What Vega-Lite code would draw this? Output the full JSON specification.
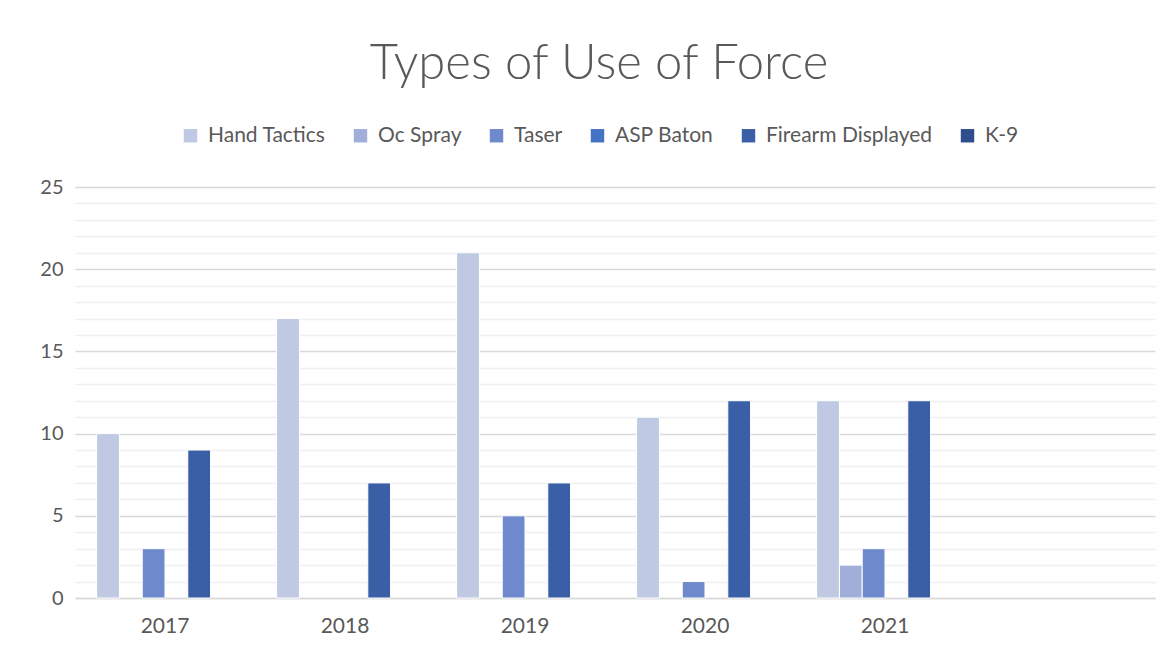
{
  "$schema": "https://vega.github.io/schema/vega-lite/v6.json",
  "autosize": "none",
  "width": 1080,
  "height": 411,
  "padding": {"left": 75, "top": 187, "right": 15, "bottom": 53},
  "background": "white",
  "config": {
    "font": "Lato",
    "view": {"stroke": null}
  },
  "title": {
    "text": "Types of Use of Force",
    "fontSize": 49,
    "font": "Lato",
    "fontWeight": 300,
    "color": "#595959",
    "anchor": "middle",
    "frame": "group",
    "dx": -16,
    "offset": 36
  },
  "data": {
    "values": [
      {"year": "2017", "type": "Hand Tactics", "count": 10},
      {"year": "2017", "type": "Taser", "count": 3},
      {"year": "2017", "type": "Firearm Displayed", "count": 9},
      {"year": "2018", "type": "Hand Tactics", "count": 17},
      {"year": "2018", "type": "Firearm Displayed", "count": 7},
      {"year": "2019", "type": "Hand Tactics", "count": 21},
      {"year": "2019", "type": "Taser", "count": 5},
      {"year": "2019", "type": "Firearm Displayed", "count": 7},
      {"year": "2020", "type": "Hand Tactics", "count": 11},
      {"year": "2020", "type": "Taser", "count": 1},
      {"year": "2020", "type": "Firearm Displayed", "count": 12},
      {"year": "2021", "type": "Hand Tactics", "count": 12},
      {"year": "2021", "type": "Oc Spray", "count": 2},
      {"year": "2021", "type": "Taser", "count": 3},
      {"year": "2021", "type": "Firearm Displayed", "count": 12}
    ]
  },
  "layer": [
    {
      "mark": {"type": "rule", "opacity": 0},
      "encoding": {
        "y": {
          "field": "count",
          "type": "quantitative",
          "scale": {"domain": [0, 25], "nice": false},
          "axis": {
            "orient": "right",
            "title": null,
            "values": [1, 2, 3, 4, 6, 7, 8, 9, 11, 12, 13, 14, 16, 17, 18, 19, 21, 22, 23, 24],
            "labels": false,
            "ticks": false,
            "domain": false,
            "grid": true,
            "gridColor": "#EFEFEF",
            "gridWidth": 1.5,
            "zindex": 0
          }
        }
      }
    },
    {
      "mark": {"type": "bar", "stroke": "white", "strokeWidth": 1},
      "encoding": {
        "x": {
          "field": "year",
          "type": "nominal",
          "scale": {"domain": ["2017", "2018", "2019", "2020", "2021", " "], "paddingInner": 0, "paddingOuter": 0},
          "axis": {
            "title": null,
            "labelAngle": 0,
            "labelFontSize": 21,
            "labelColor": "#595959",
            "labelPadding": 17,
            "ticks": false,
            "domainColor": "#D9D9D9",
            "domainWidth": 1.5
          }
        },
        "xOffset": {
          "field": "type",
          "type": "nominal",
          "scale": {"domain": ["Hand Tactics", "Oc Spray", "Taser", "ASP Baton", "Firearm Displayed", "K-9"], "paddingInner": 0, "paddingOuter": 0.95}
        },
        "y": {
          "field": "count",
          "type": "quantitative",
          "scale": {"domain": [0, 25], "nice": false},
          "axis": {
            "title": null,
            "values": [0, 5, 10, 15, 20, 25],
            "labelFontSize": 20,
            "labelColor": "#595959",
            "labelPadding": 12,
            "ticks": false,
            "domain": false,
            "grid": true,
            "gridColor": "#D9D9D9",
            "gridWidth": 1.5,
            "zindex": 0
          }
        },
        "color": {
          "field": "type",
          "type": "nominal",
          "scale": {
            "domain": ["Hand Tactics", "Oc Spray", "Taser", "ASP Baton", "Firearm Displayed", "K-9"],
            "range": ["#BFC9E4", "#A0AED9", "#6F8ACC", "#4472C4", "#3A5FA7", "#2F4D8C"]
          },
          "legend": {
            "title": null,
            "orient": "none",
            "direction": "horizontal",
            "legendX": 105,
            "legendY": -62,
            "symbolType": "square",
            "symbolSize": 180,
            "symbolStrokeWidth": 0,
            "labelFontSize": 21,
            "labelLimit": 400,
            "labelColor": "#595959",
            "labelOffset": 7,
            "columnPadding": 24
          }
        }
      }
    }
  ],
  "resolve": {"axis": {"y": "independent"}}
}
